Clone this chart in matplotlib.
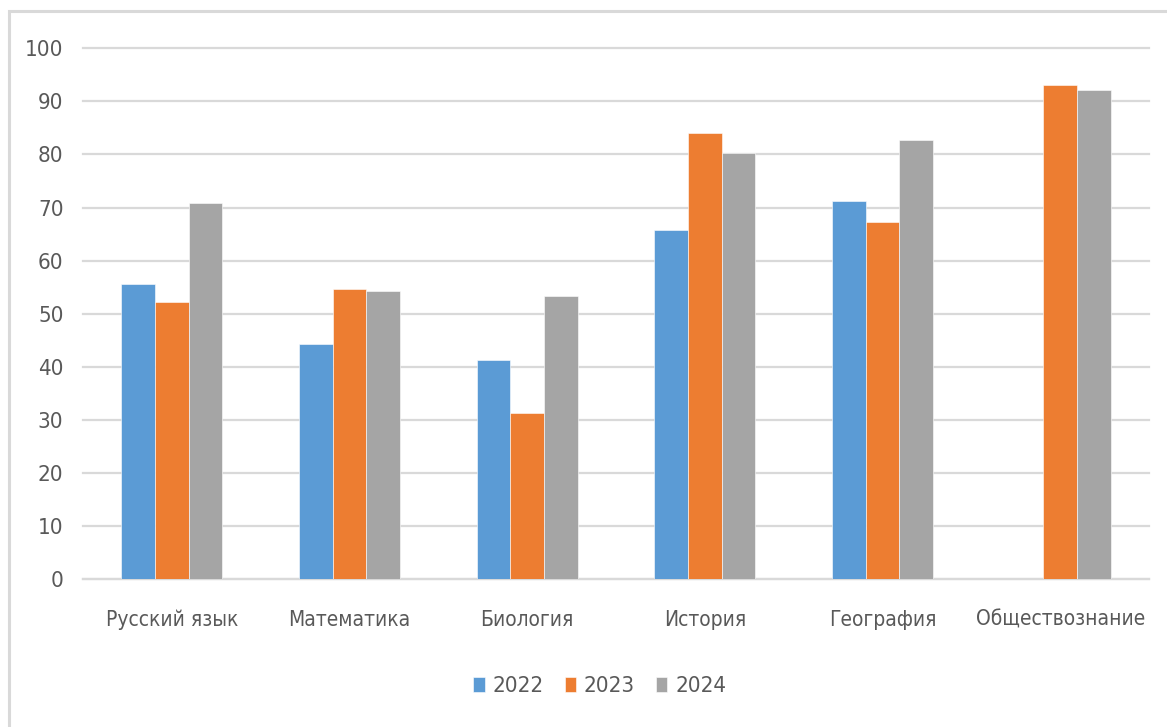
import numpy as np
import matplotlib
matplotlib.use("Agg")
import matplotlib.pyplot as plt
from matplotlib.patches import Rectangle

# данные
subjects = ["Русский язык", "Математика", "Биология", "История", "География", "Обществознание"]
years = ["2022", "2023", "2024"]
vals_2022 = [55.6, 44.3, 41.3, 65.8, 71.2, np.nan]
vals_2023 = [52.2, 54.6, 31.3, 84.0, 67.3, 93.0]
vals_2024 = [70.9, 54.3, 53.3, 80.3, 82.7, 92.1]
colors = ["#5B9BD5", "#ED7D31", "#A5A5A5"]

plt.rcParams['font.family'] = ['DejaVu Sans']
plt.rcParams['font.stretch'] = 'condensed'
txt_color = "#595959"
grid_color = "#D9D9D9"

fig = plt.figure(figsize=(11.67, 7.27), dpi=100)
ax = fig.add_axes([0.0711, 0.2032, 0.9846 - 0.0711, 0.9336 - 0.2032])

# рамка диаграммы
fig.patches.append(Rectangle((9 / 1167, -0.05), 1.1, 1 - 11 / 727 + 0.05,
                             transform=fig.transFigure, fill=False,
                             edgecolor=grid_color, linewidth=2.2))

x = np.arange(len(subjects))
w = 0.19
series = [vals_2022, vals_2023, vals_2024]
for i, (vals, c, lab) in enumerate(zip(series, colors, years)):
    ax.bar(x + (i - 1) * w, vals, width=w, color=c, label=lab,
           edgecolor="white", linewidth=0.4, zorder=3)

ax.set_xlim(-0.5, len(subjects) - 0.5)
ax.set_ylim(0, 100)
ax.set_yticks(np.arange(0, 101, 10))
ax.yaxis.grid(True, color=grid_color, linewidth=1.6, zorder=0)
for gl in ax.get_ygridlines():
    gl.set_clip_on(False)
ax.set_axisbelow(True)
for s in ["top", "right", "left"]:
    ax.spines[s].set_visible(False)
ax.spines["bottom"].set_color(grid_color)
ax.spines["bottom"].set_linewidth(1.6)

ax.set_xticks(x)
ax.set_xticklabels(subjects)
ax.tick_params(axis="x", length=0, pad=22, labelsize=15, labelcolor=txt_color)
ax.tick_params(axis="y", length=0, pad=14, labelsize=16, labelcolor=txt_color)

leg = fig.legend(loc="center", bbox_to_anchor=(0.514, 0.056), ncol=3, frameon=False,
                 fontsize=16, handlelength=0.5, handleheight=0.72, handletextpad=0.36,
                 columnspacing=0.95)
for t in leg.get_texts():
    t.set_color(txt_color)

fig.savefig("out.png", dpi=100)
